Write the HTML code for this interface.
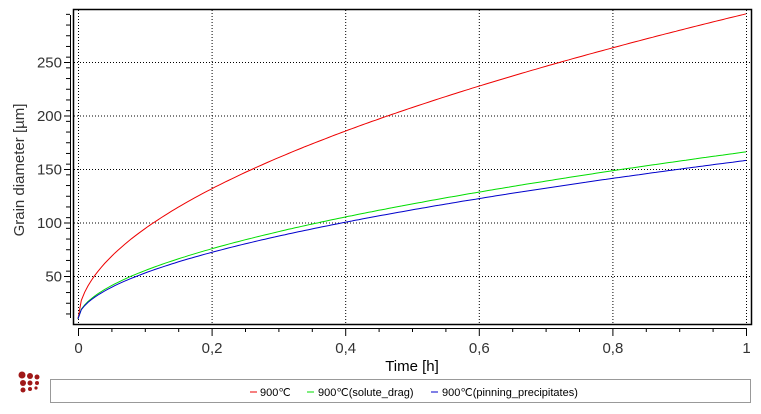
<!DOCTYPE html><html><head><style>body{margin:0;background:#fff;width:761px;height:414px;overflow:hidden}svg{display:block;font-family:"Liberation Sans",sans-serif}</style></head><body>
<svg id="s" width="761" height="414" xmlns="http://www.w3.org/2000/svg">
<rect x="73.5" y="9.5" width="678" height="315" fill="none" stroke="#000" stroke-width="1.5"/>
<g stroke="#000" stroke-dasharray="1,2" stroke-width="1" id="grid"></g>
<g stroke="#000" id="ax"></g>
<g font-size="15" fill="#333" id="lab"></g>
<text x="412" y="371" font-size="15" text-anchor="middle" fill="#000">Time [h]</text>
<text transform="translate(24,170) rotate(-90)" font-size="15" text-anchor="middle" fill="#333">Grain diameter [µm]</text>
<g id="cur" fill="none" stroke-width="1"></g>
<rect x="50.5" y="379.5" width="700" height="23" fill="#fff" stroke="#999"/>
<g font-size="11" fill="#000">
<line x1="250" y1="392" x2="257" y2="392" stroke="#e00"/><text x="260" y="396">900℃</text>
<line x1="307" y1="392" x2="314" y2="392" stroke="#0d0"/><text x="318" y="396">900℃(solute_drag)</text>
<line x1="431" y1="392" x2="438" y2="392" stroke="#00c"/><text x="442" y="396">900℃(pinning_precipitates)</text>
</g>
<g fill="#a01818"><circle cx="22" cy="375" r="3.5"/><circle cx="30" cy="376" r="3"/><circle cx="37" cy="377" r="2.5"/><circle cx="23" cy="383" r="3"/><circle cx="30" cy="383" r="2.5"/><circle cx="37" cy="383" r="2"/><circle cx="23" cy="390" r="2.5"/><circle cx="30" cy="389" r="2"/><circle cx="36" cy="388" r="1.6"/></g>
</svg>
<script>
var X=t=>78+t*668,Y=v=>276-(v-50)*1.07,ns="http://www.w3.org/2000/svg";
function el(p,n,a,t){var e=document.createElementNS(ns,n);for(var k in a)e.setAttribute(k,a[k]);if(t)e.textContent=t;document.getElementById(p).appendChild(e);}
for(var i=0;i<=5;i++){var x=X(i*0.2)+.5;el('grid','line',{x1:x,y1:10,x2:x,y2:324});el('ax','line',{x1:x,y1:328,x2:x,y2:336});el('lab','text',{x:x,y:353,'text-anchor':'middle'},i==0?'0':i==5?'1':('0,'+(2*i)));
for(var j=1;j<4;j++){var xx=X(i*0.2+j*0.05)+.5;if(i<5)el('ax','line',{x1:xx,y1:328,x2:xx,y2:332});}}
el('ax','line',{x1:78,y1:328.5,x2:747,y2:328.5});
el('ax','line',{x1:70.5,y1:15,x2:70.5,y2:318});
for(var v=50;v<=250;v+=50){var y=Y(v)+.5;el('grid','line',{x1:74,y1:y,x2:751,y2:y});el('ax','line',{x1:64,y1:y,x2:70,y2:y});el('lab','text',{x:62,y:y+5,'text-anchor':'end'},v);}
for(var v=15;v<=295;v+=10){if(v%50==0)continue;var y=Y(v)+.5;el('ax','line',{x1:66,y1:y,x2:70,y2:y});}
function c(a,p,col,o){var d='';for(var k=0;k<=200;k++){var t=k/200;d+=(k?'L':'M')+X(t).toFixed(1)+','+Y(o+a*Math.pow(t,p)).toFixed(1);}el('cur','path',{d:d,stroke:col});}
c(285,0.53,'#e00',10);c(156,0.54,'#0d0',10);c(148,0.54,'#00c',10);
</script>
</body></html>
